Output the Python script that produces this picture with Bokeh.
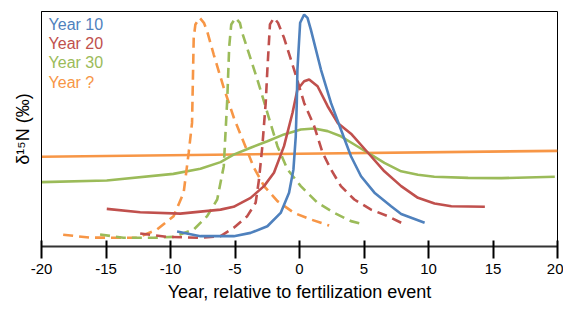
from bokeh.plotting import figure
from bokeh.models import FixedTicker, Label
from bokeh.embed import file_html
from bokeh.resources import INLINE

# ---- data (year relative to fertilization event, relative d15N) ----
y10_x = [-9.49, -7.68, -5.09, -3.79, -2.49, -1.46, -0.81, -0.47, -0.29, -0.21, -0.16, 0.05, 0.36, 0.62, 0.88, 1.66, 2.44, 3.21, 3.99, 4.77, 5.81, 7.10, 7.88, 9.70]
y10_y = [6.4, 4.4, 4.4, 5.8, 8.6, 14.3, 22.9, 32.8, 46.9, 61.1, 75.3, 95.2, 98.7, 97.3, 92.3, 75.3, 61.1, 49.8, 38.4, 29.9, 22.9, 17.1, 13.8, 10.1]

y20_x = [-14.94, -12.35, -9.24, -6.12, -5.11, -3.79, -2.75, -1.98, -1.20, -0.54, -0.16, 0.36, 0.75, 1.40, 2.18, 2.96, 3.99, 5.29, 6.58, 7.88, 9.18, 10.47, 11.77, 14.37]
y20_y = [16.0, 14.6, 14.0, 15.7, 16.9, 20.7, 25.7, 31.4, 42.7, 56.9, 66.8, 70.3, 71.1, 68.2, 59.7, 52.6, 48.0, 40.0, 32.0, 25.7, 20.7, 18.3, 17.1, 16.9]

y30_x = [-20.0, -14.94, -9.78, -7.68, -6.12, -5.11, -3.79, -2.49, -1.20, 0.10, 1.14, 2.18, 3.21, 4.25, 5.29, 6.58, 7.88, 9.18, 10.45, 13.07, 15.66, 19.79]
y30_y = [27.4, 28.1, 30.9, 33.1, 35.9, 39.1, 42.0, 44.8, 47.7, 49.8, 50.2, 49.1, 46.9, 43.4, 39.9, 35.6, 32.0, 30.5, 29.7, 29.2, 29.1, 29.7]

yq_x = [-20.0, 20.0]
yq_y = [38.2, 40.7]

y20d_x = [-12.35, -10.27, -7.68, -6.12, -5.09, -4.05, -3.40, -3.14, -2.88, -2.62, -2.49, -2.29, -1.98, -1.67, -1.20, -0.42, 0.36, 1.14, 1.79, 2.44, 3.21, 4.25, 5.55, 6.85, 8.14]
y20d_y = [5.5, 4.1, 3.7, 4.4, 8.0, 12.9, 18.6, 28.5, 42.7, 61.1, 75.3, 94.5, 97.3, 95.2, 88.8, 75.3, 61.1, 51.2, 39.9, 32.8, 25.7, 20.0, 15.7, 12.9, 9.4]

y30d_x = [-15.46, -13.65, -11.32, -9.76, -8.20, -7.16, -6.38, -5.87, -5.60, -5.45, -5.29, -4.96, -4.62, -4.44, -3.27, -2.49, -1.71, -0.93, 0.10, 1.40, 2.69, 3.99, 5.03]
y30d_y = [5.1, 3.7, 3.7, 4.1, 7.2, 12.9, 20.0, 34.2, 62.6, 85.0, 94.5, 97.3, 95.2, 90.9, 71.1, 56.9, 42.7, 32.8, 25.7, 18.6, 14.3, 10.8, 9.4]

yqd_x = [-18.32, -16.24, -12.61, -11.05, -9.76, -8.98, -8.59, -8.33, -8.20, -8.07, -7.74, -7.41, -7.16, -6.65, -5.87, -5.09, -3.53, -2.75, -1.71, -0.42, 0.88, 2.30]
yqd_y = [5.0, 3.8, 3.7, 7.2, 12.9, 22.9, 39.9, 52.6, 88.8, 94.5, 97.3, 95.2, 91.6, 81.7, 67.5, 54.8, 33.5, 25.7, 19.3, 14.3, 11.5, 8.9]

x_ticks = [-20, -15, -10, -5, 0, 5, 10, 15, 20]
x_tick_labels = ["-20", "-15", "-10", "-5", "0", "5", "10", "15", "20"]
legend_labels = ["Year 10", "Year 20", "Year 30", "Year ?"]

BLUE = "#4F81BD"
RED = "#C0504D"
GREEN = "#9BBB59"
ORANGE = "#F79646"

FONT = "Liberation Sans"

p = figure(width=563, height=307, x_range=(-20, 20), y_range=(0, 100),
           output_backend="svg", toolbar_location=None,
           min_border_left=41, min_border_right=6, min_border_top=11, min_border_bottom=61)

p.xgrid.visible = False
p.ygrid.visible = False
p.outline_line_color = "black"
p.outline_line_width = 1
p.background_fill_color = "white"
p.border_fill_color = "white"

# x axis
p.xaxis.ticker = FixedTicker(ticks=x_ticks)
p.xaxis.major_label_overrides = {t: s for t, s in zip(x_ticks, x_tick_labels)}
p.xaxis.axis_label = "Year, relative to fertilization event"
p.xaxis.axis_label_text_font = FONT
p.xaxis.axis_label_text_font_size = "18px"
p.xaxis.axis_label_text_font_style = "normal"
p.xaxis.axis_label_text_color = "black"
p.xaxis.axis_label_standoff = 5
p.xaxis.major_label_text_font = FONT
p.xaxis.major_label_text_font_size = "15px"
p.xaxis.major_label_text_color = "black"
p.xaxis.major_label_standoff = 5
p.xaxis.major_tick_in = 6
p.xaxis.major_tick_out = 12
p.xaxis.major_tick_line_width = 2
p.xaxis.major_tick_line_color = "black"
p.xaxis.minor_tick_line_color = None
p.xaxis.axis_line_color = "#333333"
p.xaxis.axis_line_width = 2

# y axis
p.yaxis.ticker = FixedTicker(ticks=[])
p.yaxis.major_tick_in = 0
p.yaxis.major_tick_out = 0
p.yaxis.minor_tick_line_color = None
p.yaxis.major_label_text_font_size = "0px"
p.yaxis.axis_line_color = "black"
p.yaxis.axis_line_width = 1
p.yaxis.axis_label = "δ¹⁵N (‰)"
p.yaxis.axis_label_text_font = FONT
p.yaxis.axis_label_text_font_size = "18px"
p.yaxis.axis_label_text_font_style = "normal"
p.yaxis.axis_label_text_color = "black"
p.yaxis.axis_label_standoff = 9

LW = 2.6
DASH = "10 6"

p.line(yq_x, yq_y, color=ORANGE, line_width=LW)
p.line(y30_x, y30_y, color=GREEN, line_width=LW)
p.line(yqd_x, yqd_y, color=ORANGE, line_width=LW, line_dash=DASH)
p.line(y30d_x, y30d_y, color=GREEN, line_width=LW, line_dash=DASH)
p.line(y20d_x, y20d_y, color=RED, line_width=LW, line_dash=DASH)
p.line(y20_x, y20_y, color=RED, line_width=LW)
p.line(y10_x, y10_y, color=BLUE, line_width=LW)

# legend as coloured text
for i, (lab, col) in enumerate(zip(legend_labels, [BLUE, RED, GREEN, ORANGE])):
    p.add_layout(Label(x=-19.45, y=98.2 - i * 8.2, text=lab, text_color=col,
                       text_font=FONT, text_font_size="16px", text_baseline="top"))

open("out.html", "w").write(file_html(p, INLINE))
